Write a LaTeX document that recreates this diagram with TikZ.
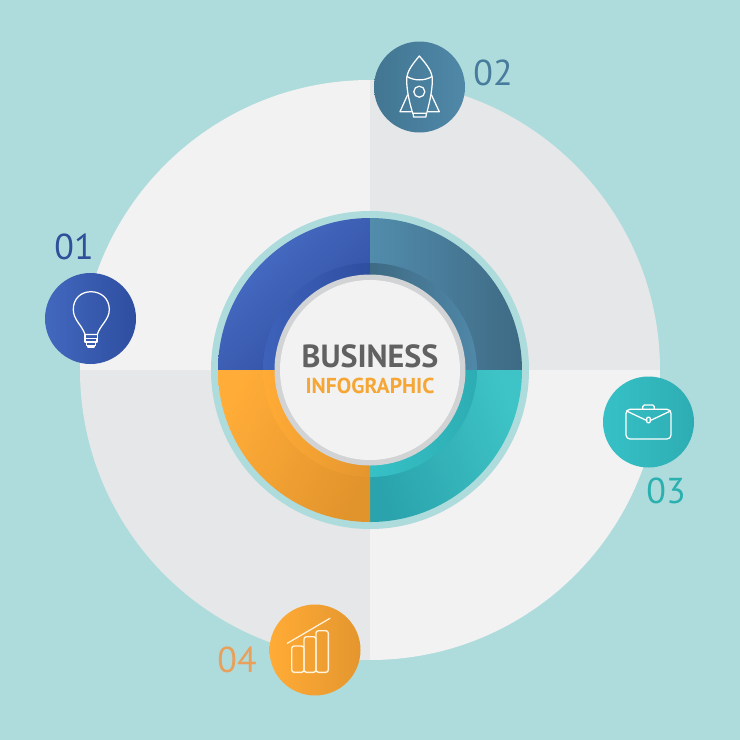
\documentclass[tikz,border=0pt]{standalone}
\usepackage{fontspec}
\setmainfont{PT Sans}
\newfontfamily\digitfont{PT Sans}
\definecolor{bgteal}{HTML}{AEDCDC}
\definecolor{palegrey}{HTML}{F2F2F3}
\definecolor{midgrey}{HTML}{E6E7E8}
\definecolor{rimgrey}{HTML}{D1D3D4}
\definecolor{blueA}{HTML}{4A70C8}
\definecolor{blueB}{HTML}{2E4C9E}
\definecolor{blueC}{HTML}{3E62BA}
\definecolor{blueD}{HTML}{2E4EA0}
\definecolor{blueE}{HTML}{4268BE}
\definecolor{slateA}{HTML}{528CAC}
\definecolor{slateB}{HTML}{3E6A84}
\definecolor{slateC}{HTML}{5088A8}
\definecolor{slateD}{HTML}{427692}
\definecolor{aquaA}{HTML}{3EC4C6}
\definecolor{aquaB}{HTML}{2AA3AC}
\definecolor{aquaC}{HTML}{36C1C6}
\definecolor{aquaD}{HTML}{2DADB3}
\definecolor{orangeA}{HTML}{FFAC38}
\definecolor{orangeB}{HTML}{E2942C}
\definecolor{orangeC}{HTML}{FFAB36}
\definecolor{orangeD}{HTML}{E4962E}
\definecolor{subtitlecol}{HTML}{F5A635}
\definecolor{numA}{HTML}{2F4F9A}
\definecolor{numB}{HTML}{487C9C}
\definecolor{numC}{HTML}{2BB0B0}
\definecolor{numD}{HTML}{E8A05A}
\definecolor{barline}{HTML}{FFF3DC}
\newcommand{\segment}[6]{% x0 y0 x1 y1 radius shading options
  \begin{scope}
    \clip (#1,#2) rectangle (#3,#4);
    \clip (370,370) circle (#5);
    \shade[#6] (#1,#2) rectangle (#3,#4);
  \end{scope}}
\tikzset{
  badge/.style={circle,minimum size=91pt,inner sep=0pt},
  icon/.style={draw=white,line width=1.25pt,line join=round,line cap=round},
  iconbar/.style={draw=barline,line width=1.4pt,rounded corners=2.5pt},
  numeral/.style={font=\digitfont\fontsize{36}{36}\selectfont,inner sep=0pt}
}
\begin{document}
\begin{tikzpicture}[x=1pt,y=-1pt]
\useasboundingbox (0,0) rectangle (740,740);
\fill[bgteal] (0,0) rectangle (740,740);
% large disc quadrants
\begin{scope}
  \clip (370,370) circle (290);
  \fill[palegrey] (80,80) rectangle (370,370);
  \fill[midgrey] (370,80) rectangle (660,370);
  \fill[palegrey] (370,370) rectangle (660,660);
  \fill[midgrey] (80,370) rectangle (370,660);
\end{scope}
% central ring
\fill[bgteal] (370,370) circle (159);
\segment{218}{218}{370}{370}{152}{bottom color=blueB,middle color=blueB,top color=blueA,shading angle=45}
\segment{370}{218}{522}{370}{152}{left color=slateA,right color=slateB}
\segment{370}{370}{522}{522}{152}{bottom color=aquaB,top color=aquaA,shading angle=-70}
\segment{218}{370}{370}{522}{152}{top color=orangeA,bottom color=orangeB,shading angle=65}
% inner darker band
\segment{263}{263}{370}{370}{107}{left color=blueC,right color=blueD}
\segment{370}{263}{477}{370}{107}{left color=slateB,right color=slateC}
\segment{370}{370}{477}{477}{107}{left color=aquaC,right color=aquaD}
\segment{263}{370}{370}{477}{107}{left color=orangeC,right color=orangeD}
% centre disc
\fill[rimgrey] (370,370) circle (95.5);
\node[circle,fill=palegrey,minimum size=180pt,inner sep=0pt] (hub) at (370,370) {};
\node[inner sep=0pt,text=black!62,font=\bfseries\fontsize{32}{32}\selectfont] (title) at (370,356.5) {BUSINESS};
\node[inner sep=0pt,text=subtitlecol,font=\bfseries\fontsize{21.6}{22}\selectfont] (subtitle) at (370,386) {INFOGRAPHIC};
% badges
\node[badge,left color=blueE,right color=blueD] (b1) at (90.5,318.5) {};
\node[badge,left color=slateD,right color=slateC] (b2) at (419.5,87) {};
\node[badge,left color=aquaC,right color=aquaD] (b3) at (648.5,422) {};
\node[badge,left color=orangeC,right color=orangeD] (b4) at (315,650) {};
% numerals
\node[numeral,text=numA] (n1) at (74,247) {01};
\node[numeral,text=numB] (n2) at (493,73) {02};
\node[numeral,text=numC] (n3) at (666,491) {03};
\node[numeral,text=numD] (n4) at (237,660) {04};
% bulb
\draw[icon] (85,334.5) .. controls (82,325) and (73.3,320) .. (73.3,309.5) .. controls (73.3,298.5) and (81,291.7) .. (91,291.7) .. controls (101,291.7) and (109.3,298.5) .. (109.3,309.5) .. controls (109.3,320) and (100,325) .. (97.3,334.5) -- cycle;
\draw[icon] (85,334.5) -- (85,338.5) -- (97.3,338.5) -- (97.3,334.5);
\draw[icon] (85,338.5) -- (85,342) -- (97,342) -- (97,338.5);
\draw[icon] (86.5,342) -- (86.5,345.5) -- (95.5,345.5) -- (95.5,342);
\draw[icon] (88,345.5) -- (88,347) -- (94,347) -- (94,345.5);
% rocket
\draw[icon] (419.3,56) .. controls (411,66) and (406.7,72) .. (406.7,80) .. controls (406.7,92) and (410,104) .. (412.7,113.3) -- (426.7,113.3) .. controls (429,104) and (432.3,92) .. (432.3,80) .. controls (432.3,72) and (428,66) .. (419.3,56) -- cycle;
\draw[icon] (407,76.5) .. controls (414,81) and (425,81) .. (432,76.5);
\draw[icon] (419.3,91.7) circle (5.5);
\draw[icon] (407.5,95) -- (400,111.7) -- (411.3,111.7);
\draw[icon] (431.5,95) -- (439.3,111.7) -- (428,111.7);
\draw[icon] (413.2,113.3) -- (413.5,117) -- (426,117) -- (426.3,113.3);
% briefcase
\draw[icon,rounded corners=4pt] (626,409.3) rectangle (671,439);
\draw[icon,rounded corners=1.5pt] (642.7,409.3) -- (642.7,405) -- (654.3,405) -- (654.3,409.3);
\draw[icon] (626.5,411) -- (646.7,420.5) (650.3,420.5) -- (670.5,411);
\draw[icon,rounded corners=1pt] (646.7,417.3) rectangle (650.3,422.7);
% bars
\draw[icon,draw=barline] (287.3,643.3) -- (330,618.3);
\draw[iconbar] (291.7,646) rectangle (304,672.3);
\draw[iconbar] (304,636.7) rectangle (316,672.3);
\draw[iconbar] (316,630.7) rectangle (328.3,672.3);
\end{tikzpicture}
\end{document}
